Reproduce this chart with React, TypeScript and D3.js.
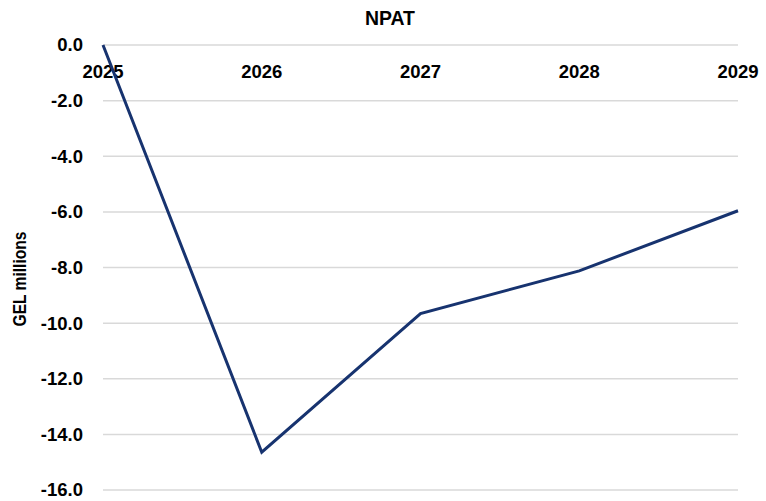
import React from "react";
import * as d3 from "d3";

const years = ["2025", "2026", "2027", "2028", "2029"];
const npat = [0.0, -14.64, -9.66, -8.12, -5.96];
const yTicks = [0, -2, -4, -6, -8, -10, -12, -14, -16];

const W = 766;
const H = 501;
const margin = { left: 103, right: 28, top: 45, bottom: 11 };
const FONT = "'Liberation Sans', Arial, sans-serif";

export default function App() {
  const x = d3
    .scalePoint<string>()
    .domain(years)
    .range([margin.left, W - margin.right]);
  const y = d3
    .scaleLinear()
    .domain([0, -16])
    .range([margin.top, H - margin.bottom]);
  const line = d3
    .line<number>()
    .x((_, i) => x(years[i]) as number)
    .y((d) => y(d));

  return (
    <svg
      width={W}
      height={H}
      style={{ position: "absolute", left: 0, top: 0, background: "#fff" }}
      fontFamily={FONT}
      fontWeight="bold"
    >
      <text
        x={390}
        y={25}
        textAnchor="middle"
        fontSize={21}
        fill="#000"
        textLength={50}
        lengthAdjust="spacingAndGlyphs"
      >
        NPAT
      </text>
      {yTicks.map((t) => (
        <g key={t}>
          <line
            x1={margin.left}
            x2={W - margin.right}
            y1={y(t)}
            y2={y(t)}
            stroke="#d9d9d9"
            strokeWidth={1.5}
          />
          <text
            x={83}
            y={y(t)}
            dy="0.35em"
            textAnchor="end"
            fontSize={18.5}
            fill="#000"
          >
            {t.toFixed(1)}
          </text>
        </g>
      ))}
      {years.map((yr) => (
        <text
          key={yr}
          x={x(yr) as number}
          y={72}
          dy="0.35em"
          textAnchor="middle"
          fontSize={18.5}
          fill="#000"
        >
          {yr}
        </text>
      ))}
      <text
        transform={`translate(20,279) rotate(-90)`}
        textAnchor="middle"
        dy="0.35em"
        fontSize={18}
        fill="#000"
        textLength={95}
        lengthAdjust="spacingAndGlyphs"
      >
        GEL millions
      </text>
      <path
        d={line(npat) || ""}
        fill="none"
        stroke="#17336f"
        strokeWidth={3}
        strokeLinejoin="miter"
      />
    </svg>
  );
}
